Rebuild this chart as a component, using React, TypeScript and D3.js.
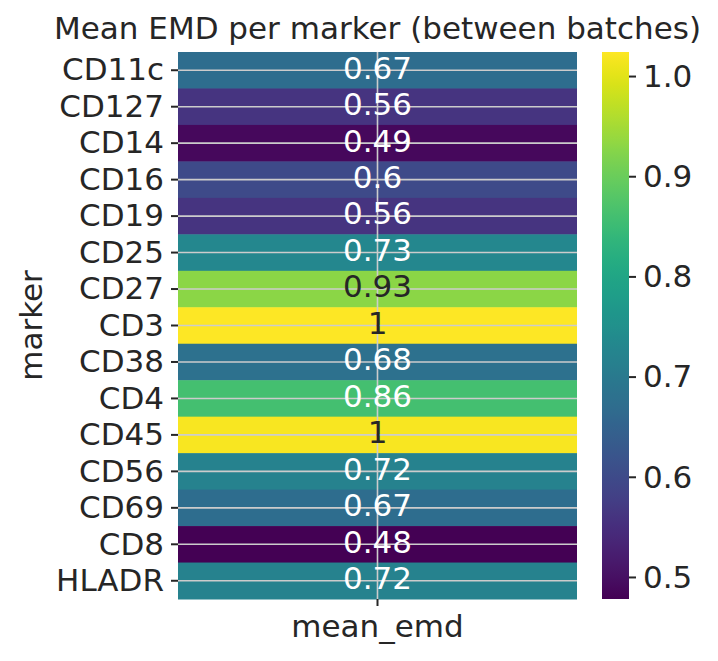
import React, { useEffect, useRef } from "react";
import * as d3 from "d3";

const markers = ["CD11c", "CD127", "CD14", "CD16", "CD19", "CD25", "CD27", "CD3", "CD38", "CD4", "CD45", "CD56", "CD69", "CD8", "HLADR"];
const meanEmd = [0.67, 0.56, 0.49, 0.6, 0.56, 0.73, 0.93, 1.024, 0.68, 0.86, 1.018, 0.72, 0.67, 0.478, 0.72];
const columns = ["mean_emd"];
const cbarTicks = [0.5, 0.6, 0.7, 0.8, 0.9, 1.0];
const title = "Mean EMD per marker (between batches)";
const yLabel = "marker";

const W = 718, H = 661;
const L = 178, R = 577, T = 52, B = 599;
const CB_L = 602, CB_R = 629;
const FONT = "DejaVu Sans, sans-serif";
const FS = 31;

function fmt2g(v: number): string {
  const s = d3.format(".2r")(v);
  return s.includes(".") ? s.replace(/0+$/, "").replace(/\.$/, "") : s;
}

function relLum(c: string): number {
  const rgb = d3.rgb(c);
  const f = (x: number) => {
    x = x / 255;
    return x <= 0.03928 ? x / 12.92 : Math.pow((x + 0.055) / 1.055, 2.4);
  };
  return 0.2126 * f(rgb.r) + 0.7152 * f(rgb.g) + 0.0722 * f(rgb.b);
}

export default function App() {
  const ref = useRef<SVGSVGElement | null>(null);

  useEffect(() => {
    const svg = d3.select(ref.current);
    svg.selectAll("*").remove();

    const vmin = d3.min(meanEmd) as number;
    const vmax = d3.max(meanEmd) as number;
    const color = d3.scaleSequential(d3.interpolateViridis).domain([vmin, vmax]);

    const y = d3.scaleBand<string>().domain(markers).range([T, B]).padding(0);
    const x = d3.scaleBand<string>().domain(columns).range([L, R]).padding(0);

    svg.append("g")
      .selectAll("rect")
      .data(markers)
      .join("rect")
      .attr("x", x(columns[0]) as number)
      .attr("y", (d) => y(d) as number)
      .attr("width", x.bandwidth())
      .attr("height", y.bandwidth() + 0.5)
      .attr("fill", (_, i) => color(meanEmd[i]));

    const grid = svg.append("g").attr("stroke", "#cccccc").attr("stroke-width", 1.6);
    markers.forEach((m) => {
      const cy = (y(m) as number) + y.bandwidth() / 2;
      grid.append("line").attr("x1", L).attr("x2", R).attr("y1", cy).attr("y2", cy);
    });
    const cx = (x(columns[0]) as number) + x.bandwidth() / 2;
    grid.append("line").attr("x1", cx).attr("x2", cx).attr("y1", T).attr("y2", B);

    svg.append("g")
      .selectAll("text")
      .data(markers)
      .join("text")
      .attr("x", cx)
      .attr("y", (d) => (y(d) as number) + y.bandwidth() / 2)
      .attr("dy", "0.27em")
      .attr("text-anchor", "middle")
      .attr("font-family", FONT)
      .attr("font-size", FS)
      .attr("fill", (_, i) => (relLum(color(meanEmd[i])) > 0.408 ? "#262626" : "#ffffff"))
      .text((_, i) => fmt2g(meanEmd[i]));

    const yAxis = d3.axisLeft(y).tickSize(7).tickPadding(7);
    const gy = svg.append("g").attr("transform", `translate(${L},0)`).call(yAxis);
    gy.select(".domain").remove();
    gy.selectAll(".tick line").attr("stroke", "#262626").attr("stroke-width", 2);
    gy.selectAll(".tick text")
      .attr("font-family", FONT)
      .attr("font-size", FS)
      .attr("fill", "#262626")
      .attr("dy", "0.33em");

    const xAxis = d3.axisBottom(x).tickSize(7).tickPadding(7);
    const gx = svg.append("g").attr("transform", `translate(0,${B})`).call(xAxis);
    gx.select(".domain").remove();
    gx.selectAll(".tick line").attr("stroke", "#262626").attr("stroke-width", 2);
    gx.selectAll(".tick text")
      .attr("font-family", FONT)
      .attr("font-size", FS)
      .attr("fill", "#262626")
      .attr("dy", "0.78em");

    const cbScale = d3.scaleLinear().domain([vmin, vmax]).range([B, T]);
    const defs = svg.append("defs");
    const grad = defs.append("linearGradient").attr("id", "cbgrad")
      .attr("x1", 0).attr("x2", 0).attr("y1", 1).attr("y2", 0);
    d3.range(0, 1.0001, 0.02).forEach((t) => {
      grad.append("stop").attr("offset", t).attr("stop-color", d3.interpolateViridis(t));
    });
    svg.append("rect")
      .attr("x", CB_L).attr("y", T).attr("width", CB_R - CB_L).attr("height", B - T)
      .attr("fill", "url(#cbgrad)");
    const cbAxis = d3.axisRight(cbScale).tickValues(cbarTicks).tickSize(7).tickPadding(7).tickFormat(d3.format(".1f"));
    const gc = svg.append("g").attr("transform", `translate(${CB_R},0)`).call(cbAxis);
    gc.select(".domain").remove();
    gc.selectAll(".tick line").attr("stroke", "#262626").attr("stroke-width", 2);
    gc.selectAll(".tick text")
      .attr("font-family", FONT)
      .attr("font-size", FS)
      .attr("fill", "#262626")
      .attr("dy", "0.33em");

    svg.append("text")
      .attr("x", (L + R) / 2)
      .attr("y", 39)
      .attr("text-anchor", "middle")
      .attr("font-family", FONT)
      .attr("font-size", FS)
      .attr("fill", "#262626")
      .text(title);

    svg.append("text")
      .attr("transform", `translate(42,${(T + B) / 2}) rotate(-90)`)
      .attr("text-anchor", "middle")
      .attr("font-family", FONT)
      .attr("font-size", FS)
      .attr("fill", "#262626")
      .text(yLabel);
  }, []);

  return (
    <div style={{ position: "absolute", left: 0, top: 0 }}>
      <svg ref={ref} width={W} height={H} style={{ display: "block", background: "#ffffff" }} />
    </div>
  );
}
